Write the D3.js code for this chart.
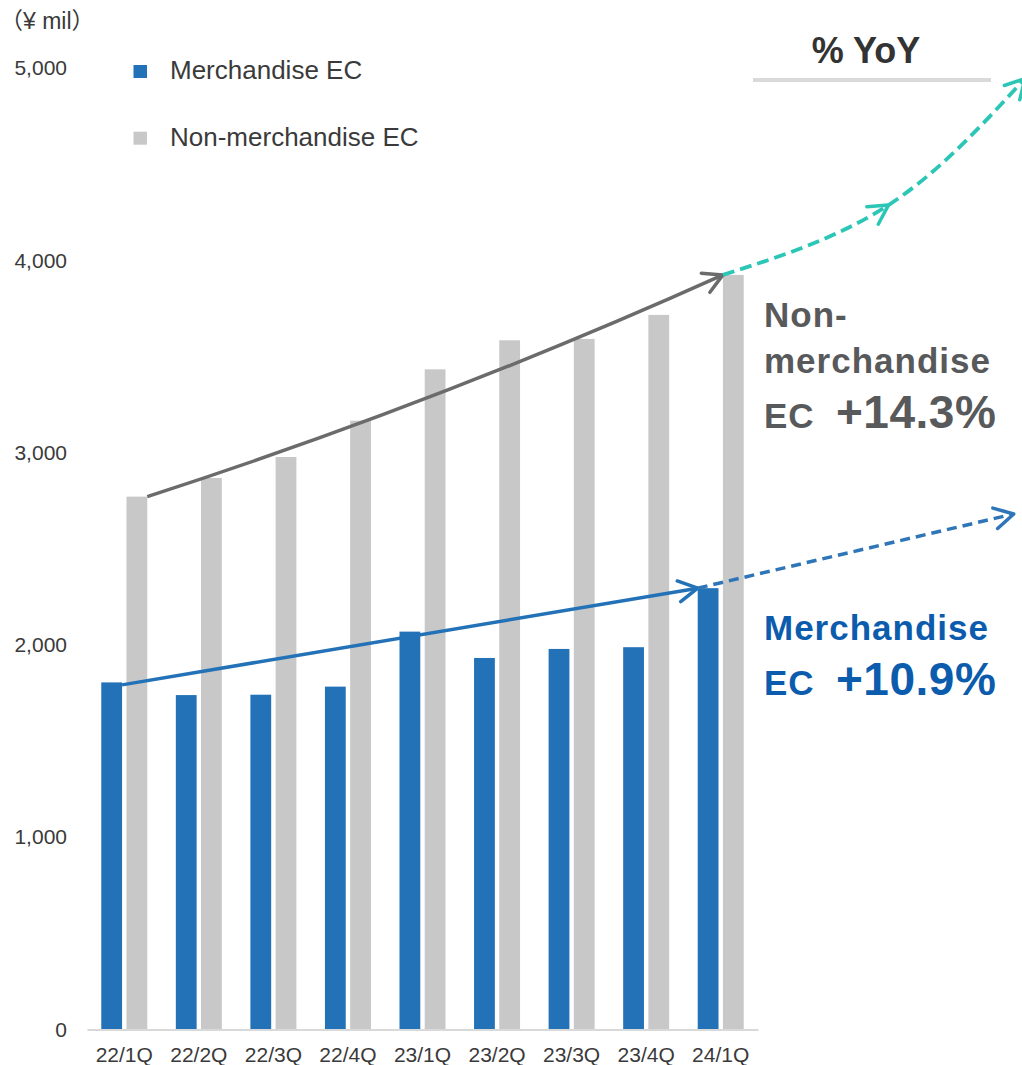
<!DOCTYPE html>
<html>
<head>
<meta charset="utf-8">
<script src="https://cdn.jsdelivr.net/npm/d3@7"></script>
<style>
  html, body { margin: 0; padding: 0; background: #ffffff; }
  svg { display: block; font-family: "Liberation Sans", Arial, "Noto Sans CJK JP", sans-serif; }
</style>
</head>
<body>
<script>
// Quarterly EC revenue (¥ mil)
const categories = ['22/1Q', '22/2Q', '22/3Q', '22/4Q', '23/1Q', '23/2Q', '23/3Q', '23/4Q', '24/1Q'];
const merchandiseEC = [1805, 1739, 1741, 1783, 2069, 1932, 1979, 1988, 2295];
const nonMerchandiseEC = [2771, 2868, 2977, 3166, 3433, 3584, 3591, 3716, 3924];
const yTicks = [0, 1000, 2000, 3000, 4000, 5000];
const seriesKeys = ['merch', 'non'];
const seriesNames = ['Merchandise EC', 'Non-merchandise EC'];
const growthLabels = ['+14.3%', '+10.9%'];
// Trend projections beyond the last quarter, in band-step units from the left edge and ¥ mil
const nonMerchProjection = [{ pos: 10.75, value: 4287 }, { pos: 12.58, value: 4945 }];
const merchProjection = [{ pos: 12.43, value: 2681 }];

const W = 1022, H = 1065;
const COLORS = { merch: '#2372b7', non: '#c8c8c8' };

const svg = d3.select('body').append('svg').attr('width', W).attr('height', H);

const x0 = d3.scaleBand().domain(categories).range([87, 758]).paddingInner(0).paddingOuter(0);
const x1 = d3.scaleBand().domain(seriesKeys)
  .range([x0.bandwidth() / 2 - 23, x0.bandwidth() / 2 + 23]).paddingInner(0.175);
const y = d3.scaleLinear().domain([0, 5000]).range([1029.5, 68]);
const posX = p => x0.range()[0] + p * x0.step();

const rows = categories.map((c, i) => ({ cat: c, merch: merchandiseEC[i], non: nonMerchandiseEC[i] }));

// Arrowhead markers (open chevrons)
const defs = svg.append('defs');
function chevron(id, color) {
  defs.append('marker')
    .attr('id', id)
    .attr('viewBox', '-26 -16 32 32')
    .attr('refX', 0).attr('refY', 0)
    .attr('markerWidth', 32).attr('markerHeight', 32)
    .attr('markerUnits', 'userSpaceOnUse')
    .attr('orient', 'auto')
    .append('path')
    .attr('d', 'M-19,-10.5 L0,0 L-19,10.5')
    .attr('fill', 'none')
    .attr('stroke', color)
    .attr('stroke-width', 3.5)
    .attr('stroke-linecap', 'round')
    .attr('stroke-linejoin', 'round');
}
chevron('arrow-grey', '#6b6b6b');
chevron('arrow-blue', '#2372b7');
chevron('arrow-teal', '#2cc6b6');
chevron('arrow-blue-dash', '#2e76b8');

// Bars
const groups = svg.append('g').selectAll('g').data(rows).join('g')
  .attr('transform', d => `translate(${x0(d.cat)},0)`);
groups.selectAll('rect').data(d => seriesKeys.map(k => ({ key: k, value: d[k] }))).join('rect')
  .attr('x', d => x1(d.key))
  .attr('width', x1.bandwidth())
  .attr('y', d => y(d.value))
  .attr('height', d => y(0) - y(d.value))
  .attr('fill', d => COLORS[d.key]);

// X axis
const xAxis = svg.append('g').attr('transform', `translate(0,${y(0)})`)
  .call(d3.axisBottom(x0).tickSize(0).tickSizeOuter(0).tickPadding(18));
xAxis.select('.domain').attr('stroke', '#d9d9d9').attr('stroke-width', 2);
xAxis.selectAll('text').attr('font-size', 21).attr('fill', '#3a3a3a')
  .attr('font-family', '"Liberation Sans", Arial, sans-serif');

// Y axis
const yAxis = svg.append('g').attr('transform', `translate(87,0)`)
  .call(d3.axisLeft(y).tickValues(yTicks).tickFormat(d3.format(',')).tickSize(0).tickPadding(20));
yAxis.select('.domain').remove();
yAxis.selectAll('text').attr('font-size', 21).attr('fill', '#3a3a3a')
  .attr('font-family', '"Liberation Sans", Arial, sans-serif');

// Unit label
svg.append('text').attr('x', 0).attr('y', 29)
  .attr('font-size', 23).attr('fill', '#3a3a3a')
  .attr('font-family', '"Liberation Sans", "Noto Sans CJK JP", sans-serif')
  .text('（¥ mil）');

// Legend
const legend = svg.append('g');
seriesKeys.forEach((k, i) => {
  legend.append('rect').attr('x', 133.5).attr('y', 65 + i * 66.7).attr('width', 13.5).attr('height', 13)
    .attr('fill', COLORS[k]);
  legend.append('text').attr('x', 170).attr('y', 79 + i * 66.7)
    .attr('font-size', 26).attr('fill', '#3a3a3a')
    .text(seriesNames[i]);
});

// Trend arrow: non-merchandise EC (first to last quarter)
const g0 = [x0(categories[0]) + x1('non') + x1.bandwidth(), y(nonMerchandiseEC[0])];
const g1 = [x0(categories[8]) + x1('non'), y(nonMerchandiseEC[8])];
(function () {
  const dx = g1[0] - g0[0], dy = g1[1] - g0[1];
  const len = Math.hypot(dx, dy);
  const nx = -dy / len, ny = dx / len;
  const bow = 17;
  const cx = (g0[0] + g1[0]) / 2 + nx * bow, cy = (g0[1] + g1[1]) / 2 + ny * bow;
  svg.append('path')
    .attr('d', `M${g0[0]},${g0[1]} Q${cx},${cy} ${g1[0]},${g1[1]}`)
    .attr('fill', 'none').attr('stroke', '#6b6b6b').attr('stroke-width', 3.5)
    .attr('marker-end', 'url(#arrow-grey)');
})();

// Trend arrow: merchandise EC
const b0 = [x0(categories[0]) + x1('merch') + x1.bandwidth(), y(merchandiseEC[0]) + 2.5];
const b1 = [x0(categories[8]) + x1('merch'), y(merchandiseEC[8])];
svg.append('path')
  .attr('d', `M${b0[0]},${b0[1]} L${b1[0]},${b1[1]}`)
  .attr('fill', 'none').attr('stroke', '#2372b7').attr('stroke-width', 3.5)
  .attr('marker-end', 'url(#arrow-blue)');

// Projection: non-merchandise EC (dashed, teal)
const tealPts = [g1].concat(nonMerchProjection.map(p => [posX(p.pos), y(p.value)]));
svg.append('path')
  .attr('d', d3.line().curve(d3.curveNatural)(tealPts))
  .attr('fill', 'none').attr('stroke', '#2cc6b6').attr('stroke-width', 3.8)
  .attr('stroke-dasharray', '12,6')
  .attr('marker-mid', 'url(#arrow-teal)')
  .attr('marker-end', 'url(#arrow-teal)');

// Projection: merchandise EC (dashed, blue)
const bluePts = [b1].concat(merchProjection.map(p => [posX(p.pos), y(p.value)]));
svg.append('path')
  .attr('d', d3.line()(bluePts))
  .attr('fill', 'none').attr('stroke', '#2e76b8').attr('stroke-width', 3.5)
  .attr('stroke-dasharray', '10,6')
  .attr('marker-end', 'url(#arrow-blue-dash)');

// % YoY header
svg.append('text').attr('x', 866).attr('y', 63).attr('text-anchor', 'middle')
  .attr('font-size', 36).attr('font-weight', 'bold').attr('fill', '#333333')
  .text('% YoY');
svg.append('line').attr('x1', 753).attr('x2', 991).attr('y1', 80).attr('y2', 80)
  .attr('stroke', '#d9d9d9').attr('stroke-width', 4);

// Growth annotations
function growthBlock(lines, pct, color, baseY) {
  const t = svg.append('g').attr('fill', color).attr('font-weight', 'bold');
  lines.forEach((s, i) => {
    t.append('text').attr('x', 764).attr('y', baseY[i])
      .attr('font-size', 35).attr('letter-spacing', 1).text(s);
  });
  const last = baseY[baseY.length - 1];
  t.append('text').attr('x', 764).attr('y', last).attr('font-size', 35).attr('letter-spacing', 1).text('EC');
  t.append('text').attr('x', 836).attr('y', last).attr('font-size', 46).attr('letter-spacing', 0.5).text(pct);
}
growthBlock(['Non-', 'merchandise'], growthLabels[0], '#58595b', [327, 373, 428]);
growthBlock(['Merchandise'], growthLabels[1], '#0b5cad', [640, 695]);
</script>
</body>
</html>
